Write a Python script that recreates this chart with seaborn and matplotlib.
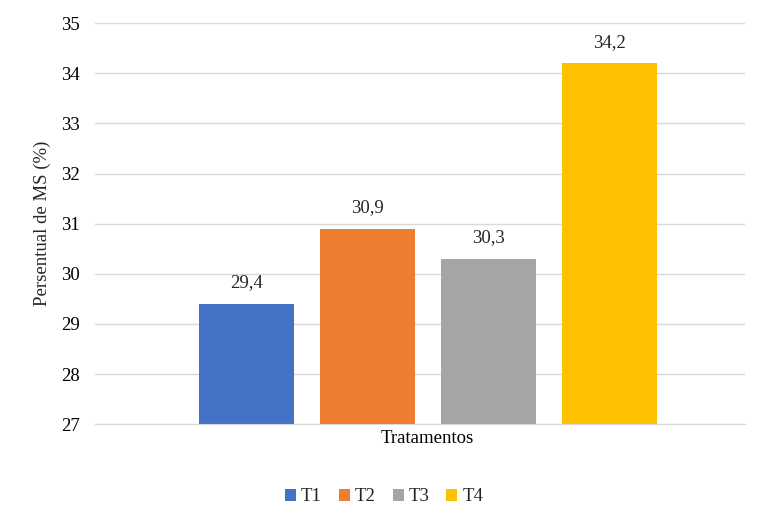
import pandas as pd
import matplotlib.pyplot as plt
import seaborn as sns

categoria = ['Tratamentos', 'Tratamentos', 'Tratamentos', 'Tratamentos']
tratamentos = ['T1', 'T2', 'T3', 'T4']
valores = [29.4, 30.9, 30.3, 34.2]
cores = ['#4472C4', '#ED7D31', '#A5A5A5', '#FFC000']

df = pd.DataFrame({'cat': categoria, 'trat': tratamentos, 'val': valores})

sns.set_style('white')
plt.rcParams['font.family'] = ['Liberation Serif', 'DejaVu Serif']

fig = plt.figure(figsize=(7.84, 5.25), dpi=100)
ax = fig.add_axes([0.121, 0.192, 0.829, 0.764])

sns.barplot(data=df, x='cat', y='val', hue='trat', palette=cores,
            saturation=1, linewidth=0, width=0.745, gap=0.215, ax=ax, legend=True)

ax.set_ylim(27, 35)
ax.set_xlim(-0.512, 0.488)
ax.set_yticks(range(27, 36))
ax.grid(axis='y', color='#D9D9D9', linewidth=1)
ax.set_axisbelow(True)
for s in ['top', 'right', 'left']:
    ax.spines[s].set_visible(False)
ax.spines['bottom'].set_color('#D9D9D9')
ax.tick_params(axis='y', length=0, labelsize=13.5, colors='black', pad=11)
ax.tick_params(axis='x', length=0, labelsize=13.5, colors='black', pad=4)
ax.set_xlabel('')
ax.set_ylabel('Persentual de MS (%)', fontsize=13.5, labelpad=7)

for cont in ax.containers:
    ax.bar_label(cont, labels=[f'{v:.1f}'.replace('.', ',') for v in cont.datavalues],
                 padding=9, fontsize=13.5)

h, l = ax.get_legend_handles_labels()
ax.legend(h, l, loc='upper center', bbox_to_anchor=(0.445, -0.118), ncol=4,
          frameon=False, fontsize=13.5, handlelength=0.6, handleheight=0.6,
          handletextpad=0.25, columnspacing=0.9)

plt.savefig('out.png', dpi=100)
